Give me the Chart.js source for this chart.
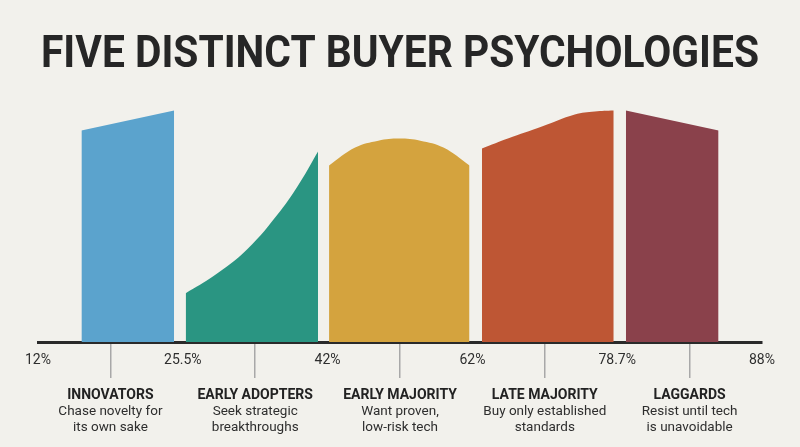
<!DOCTYPE html>
<html>
<head>
<meta charset="utf-8">
<script src="https://cdn.jsdelivr.net/npm/chart.js"></script>
<style>
  html, body { margin: 0; padding: 0; background: #F2F1EC; }
  #wrap { width: 800px; height: 447px; position: relative; }
</style>
</head>
<body>
<div id="wrap"><canvas id="buyerChart"></canvas></div>
<script>
// Segments of the adoption curve, left to right
const titleText = 'FIVE DISTINCT BUYER PSYCHOLOGIES';
const categories = ['INNOVATORS', 'EARLY ADOPTERS', 'EARLY MAJORITY', 'LATE MAJORITY', 'LAGGARDS'];
const descriptions = [
    ['Chase novelty for', 'its own sake'],
    ['Seek strategic', 'breakthroughs'],
    ['Want proven,', 'low-risk tech'],
    ['Buy only established', 'standards'],
    ['Resist until tech', 'is unavoidable']
];
const boundaryLabels = ['12%', '25.5%', '42%', '62%', '78.7%', '88%'];
const colors = ['#5BA3CD', '#2A9582', '#D4A33E', '#BE5634', '#8A414B'];

// Shape profiles (x in segment units, y = relative height)
const innovatorsX = [0.30, 0.94];
const innovatorsY = [91.4, 100];
const earlyAdoptersX = [1.02, 1.21, 1.445, 1.672, 1.81, 1.934];
const earlyAdoptersY = [21.1, 28.4, 40.1, 56.5, 69.0, 82.3];
const earlyMajorityX = [2.01, 2.19, 2.35, 2.495, 2.64, 2.80, 2.98];
const earlyMajorityY = [76.3, 84.0, 87.0, 87.9, 87.0, 84.0, 76.3];
const lateMajorityX = [3.066, 3.245, 3.48, 3.707, 3.845, 3.976];
const lateMajorityY = [83.6, 87.9, 93.1, 98.3, 99.6, 100];
const laggardsX = [4.06, 4.70];
const laggardsY = [100, 91.4];

const profiles = [
    [innovatorsX, innovatorsY, 0],
    [earlyAdoptersX, earlyAdoptersY, 0.4],
    [earlyMajorityX, earlyMajorityY, 0.4],
    [lateMajorityX, lateMajorityY, 0.4],
    [laggardsX, laggardsY, 0]
];

const tickValues = [0, 0.5, 1, 1.5, 2, 2.5, 3, 3.5, 4, 4.5, 5];

const datasets = profiles.map(([xs, ys, tension], i) => ({
    label: categories[i],
    data: xs.map((x, j) => ({ x: x, y: ys[j] })),
    backgroundColor: colors[i],
    borderWidth: 0,
    pointRadius: 0,
    fill: 'origin',
    tension: tension
}));

// Title, squeezed to the width of the axis
const titlePlugin = {
    id: 'fitTitle',
    afterDraw(chart) {
        const ctx = chart.ctx;
        ctx.save();
        ctx.font = 'bold 44px Roboto';
        const w = ctx.measureText(titleText).width;
        ctx.translate(400, 67);
        ctx.scale(718 / w, 1);
        ctx.textAlign = 'center';
        ctx.textBaseline = 'alphabetic';
        ctx.fillStyle = '#262626';
        ctx.fillText(titleText, 0, 0);
        ctx.restore();
    }
};

// Segment names and descriptions under the axis
const categoryPlugin = {
    id: 'categoryLabels',
    afterDraw(chart) {
        const ctx = chart.ctx;
        const xScale = chart.scales.x;
        ctx.save();
        ctx.textAlign = 'center';
        ctx.textBaseline = 'alphabetic';
        categories.forEach((name, i) => {
            const x = xScale.getPixelForValue(i + 0.5);
            ctx.font = 'bold 14px Roboto';
            ctx.fillStyle = '#222';
            ctx.fillText(name, x, 399);
            ctx.font = '13.5px Roboto';
            ctx.fillStyle = '#2e2e2e';
            descriptions[i].forEach((line, k) => {
                ctx.fillText(line, x, 415 + k * 15.5);
            });
        });
        ctx.restore();
    }
};

const ctx = document.getElementById('buyerChart').getContext('2d');
new Chart(ctx, {
    type: 'line',
    data: { datasets: datasets },
    plugins: [titlePlugin, categoryPlugin],
    options: {
        responsive: true,
        maintainAspectRatio: false,
        animation: false,
        layout: { padding: { top: 99, left: 38, right: 38, bottom: 65 } },
        plugins: {
            legend: { display: false },
            tooltip: { enabled: false }
        },
        scales: {
            x: {
                type: 'linear',
                min: 0,
                max: 5,
                afterBuildTicks: axis => { axis.ticks = tickValues.map(v => ({ value: v })); },
                afterFit: axis => { axis.height = 40; },
                border: { display: true, color: '#2a2a2a', width: 3 },
                grid: {
                    drawOnChartArea: false,
                    drawTicks: true,
                    tickLength: 36,
                    lineWidth: 1.5,
                    color: c => (c.tick && c.tick.value % 1 !== 0) ? '#a8a8a8' : 'rgba(0,0,0,0)'
                },
                ticks: {
                    autoSkip: false,
                    maxRotation: 0,
                    padding: -26,
                    color: '#2e2e2e',
                    font: { family: 'Roboto', size: 14 },
                    callback: v => Number.isInteger(v) ? boundaryLabels[v] : ''
                }
            },
            y: {
                display: false,
                min: 0,
                max: 105
            }
        }
    }
});
</script>
</body>
</html>
